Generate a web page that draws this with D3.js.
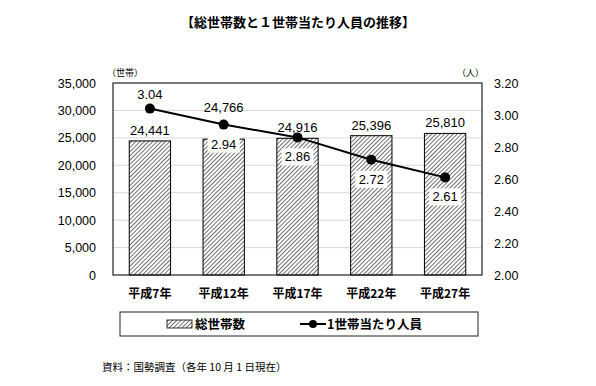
<!DOCTYPE html>
<html>
<head>
<meta charset="utf-8">
<script src="https://cdn.jsdelivr.net/npm/d3@7"></script>
<style>
  body { margin: 0; background: #fff; }
  svg { display: block; font-family: Arial, "Liberation Sans", "Noto Sans CJK JP", sans-serif; }
</style>
</head>
<body>
<div id="chart"></div>
<script>
// data
const years = ["平成7年", "平成12年", "平成17年", "平成22年", "平成27年"];
const households = [24441, 24766, 24916, 25396, 25810];
const perHousehold = [3.04, 2.94, 2.86, 2.72, 2.61];
const leftTicks = [0, 5000, 10000, 15000, 20000, 25000, 30000, 35000];
const rightTicks = [2.0, 2.2, 2.4, 2.6, 2.8, 3.0, 3.2];

const W = 596, H = 386;
const margin = { left: 113, top: 83, right: 114, bottom: 111 };
const width = W - margin.left - margin.right;
const height = H - margin.top - margin.bottom;

const svg = d3.select("#chart").append("svg")
    .attr("width", W)
    .attr("height", H);

// hatch pattern for bars
const defs = svg.append("defs");
const pat = defs.append("pattern")
    .attr("id", "hatch")
    .attr("patternUnits", "userSpaceOnUse")
    .attr("width", 3)
    .attr("height", 3)
    .attr("patternTransform", "rotate(45)");
pat.append("rect").attr("width", 3).attr("height", 3).attr("fill", "#fff");
pat.append("line")
    .attr("x1", 0).attr("y1", 0).attr("x2", 0).attr("y2", 3)
    .attr("stroke", "#333").attr("stroke-width", 1.4);

// title
svg.append("text")
    .attr("x", 298).attr("y", 27)
    .attr("text-anchor", "middle")
    .attr("font-family", "'Noto Sans CJK JP', sans-serif")
    .attr("font-weight", "bold")
    .attr("font-size", 13)
    .text("【総世帯数と１世帯当たり人員の推移】");

const g = svg.append("g")
    .attr("transform", "translate(" + margin.left + "," + margin.top + ")");

// scales
const x = d3.scaleBand().domain(years).range([0, width]).paddingInner(0.44).paddingOuter(0.22);
const yLeft = d3.scaleLinear().domain([0, 35000]).range([height, 0]);
const yRight = d3.scaleLinear().domain([2.0, 3.2]).range([height, 0]);

// gridlines
g.selectAll(".grid")
  .data(leftTicks.slice(1, -1))
  .enter()
  .append("line")
    .attr("x1", 0).attr("x2", width)
    .attr("y1", d => yLeft(d)).attr("y2", d => yLeft(d))
    .attr("stroke", "#d9d9d9").attr("stroke-width", 1);

// axes (labels only)
const leftAxis = g.append("g")
    .call(d3.axisLeft(yLeft).tickValues(leftTicks).tickFormat(d3.format(",")).tickSize(0).tickPadding(17));
const rightAxis = g.append("g")
    .attr("transform", "translate(" + width + ",0)")
    .call(d3.axisRight(yRight).tickValues(rightTicks).tickFormat(d3.format(".2f")).tickSize(0).tickPadding(12));
const bottomAxis = g.append("g")
    .attr("transform", "translate(0," + height + ")")
    .call(d3.axisBottom(x).tickSize(0).tickPadding(14));

[leftAxis, rightAxis, bottomAxis].forEach(a => {
  a.select(".domain").remove();
  a.selectAll("text").attr("font-size", 12.5).attr("fill", "#000");
});
bottomAxis.selectAll("text")
    .attr("font-family", "'Noto Sans CJK JP', sans-serif")
    .attr("font-weight", "bold")
    .attr("font-size", 12);

// unit labels
svg.append("text")
    .attr("x", 107).attr("y", 76)
    .attr("font-family", "'Noto Sans CJK JP', sans-serif")
    .attr("font-size", 9)
    .text("（世帯）");
svg.append("text")
    .attr("x", 484).attr("y", 76)
    .attr("text-anchor", "end")
    .attr("font-family", "'Noto Sans CJK JP', sans-serif")
    .attr("font-size", 9)
    .text("（人）");

// bars
g.selectAll(".bar")
  .data(households)
  .enter()
  .append("rect")
    .attr("x", (d, i) => x(years[i]))
    .attr("y", d => yLeft(d))
    .attr("width", x.bandwidth())
    .attr("height", d => height - yLeft(d))
    .attr("fill", "url(#hatch)")
    .attr("stroke", "#000")
    .attr("stroke-width", 1);

// bar labels; moved above the line marker when it would sit on the label
const cx = (d, i) => x(years[i]) + x.bandwidth() / 2;
const barLabelY = (d, i) => {
  const top = yLeft(d), py = yRight(perHousehold[i]);
  if (py < top - 3 && py > top - 25) return py - 13;
  return top - 6;
};
g.selectAll(".barlabel")
  .data(households)
  .enter()
  .append("text")
    .attr("x", cx)
    .attr("y", barLabelY)
    .attr("text-anchor", "middle")
    .attr("font-size", 13)
    .text(d => d3.format(",")(d));

// frame
g.append("rect")
    .attr("width", width).attr("height", height)
    .attr("fill", "none").attr("stroke", "#222").attr("stroke-width", 1.2);

// line
const line = d3.line()
    .x((d, i) => cx(d, i))
    .y(d => yRight(d));
g.append("path")
    .datum(perHousehold)
    .attr("d", line)
    .attr("fill", "none")
    .attr("stroke", "#000")
    .attr("stroke-width", 2);
g.selectAll(".dot")
  .data(perHousehold)
  .enter()
  .append("circle")
    .attr("cx", cx)
    .attr("cy", d => yRight(d))
    .attr("r", 5)
    .attr("fill", "#000");

// line labels: first above, rest below with white box
perHousehold.forEach((d, i) => {
  const above = i === 0;
  const ty = above ? yRight(d) - 10 : yRight(d) + 24;
  if (!above) {
    g.append("rect")
        .attr("x", cx(d, i) - 16).attr("y", ty - 13)
        .attr("width", 32).attr("height", 17)
        .attr("fill", "#fff");
  }
  g.append("text")
      .attr("x", cx(d, i))
      .attr("y", ty)
      .attr("text-anchor", "middle")
      .attr("font-size", 13)
      .text(d3.format(".2f")(d));
});

// legend
const lg = svg.append("g");
lg.append("rect")
    .attr("x", 120).attr("y", 312)
    .attr("width", 358).attr("height", 24)
    .attr("fill", "#fff").attr("stroke", "#222").attr("stroke-width", 1);
lg.append("rect")
    .attr("x", 167).attr("y", 320)
    .attr("width", 25).attr("height", 8)
    .attr("fill", "url(#hatch)").attr("stroke", "#000").attr("stroke-width", 0.8);
lg.append("text")
    .attr("x", 195).attr("y", 329)
    .attr("font-family", "'Noto Sans CJK JP', sans-serif")
    .attr("font-weight", "bold")
    .attr("font-size", 12.5)
    .text("総世帯数");
lg.append("line")
    .attr("x1", 300).attr("x2", 326).attr("y1", 324).attr("y2", 324)
    .attr("stroke", "#000").attr("stroke-width", 2);
lg.append("circle")
    .attr("cx", 313).attr("cy", 324).attr("r", 4).attr("fill", "#000");
lg.append("text")
    .attr("x", 327).attr("y", 329)
    .attr("font-family", "'Noto Sans CJK JP', sans-serif")
    .attr("font-weight", "bold")
    .attr("font-size", 12.5)
    .text("1世帯当たり人員");

// source note
svg.append("text")
    .attr("x", 102).attr("y", 371)
    .attr("font-family", "'Noto Sans CJK JP', sans-serif")
    .attr("font-size", 10.5)
    .text("資料：国勢調査（各年 10 月 1 日現在）");
</script>
</body>
</html>
